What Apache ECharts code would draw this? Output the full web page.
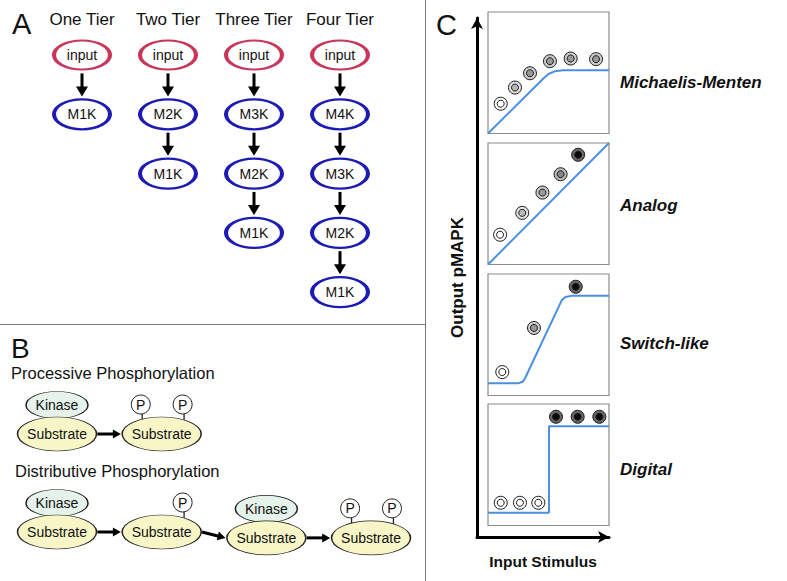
<!DOCTYPE html>
<html>
<head>
<meta charset="utf-8">
<script src="https://cdn.jsdelivr.net/npm/echarts@6/dist/echarts.min.js"></script>
<style>
  html, body { margin: 0; padding: 0; background: #fff; }
  #chart { width: 787px; height: 581px; }
</style>
</head>
<body>
<div id="chart"></div>
<script>
// panel A - cascades, one column per tier, top node first
const tiers = ['One Tier', 'Two Tier', 'Three Tier', 'Four Tier'];
const tierNodes = [
  ['input', 'M1K'],
  ['input', 'M2K', 'M1K'],
  ['input', 'M3K', 'M2K', 'M1K'],
  ['input', 'M4K', 'M3K', 'M2K', 'M1K']
];

// panel B - stages of each scheme (kinase bound?, number of P, row)
const procKinase = [1, 0];
const procPhospho = [0, 2];
const procRow = [0, 0];
const distKinase = [1, 0, 1, 0];
const distPhospho = [0, 1, 0, 2];
const distRow = [1, 1, 1.06, 1.06];

// panel C - response curves (0..10 box units) and dots
const mmCurveX = [0, 4.6, 5.0, 5.5, 6.2, 10];
const mmCurveY = [0, 4.55, 4.9, 5.12, 5.2, 5.2];
const mmDotX = [1.05, 2.23, 3.47, 5.12, 6.83, 8.93];
const mmDotY = [2.45, 3.78, 4.96, 5.95, 6.17, 6.12];
const mmDotLevel = [0, 1, 2, 2, 2, 2];

const anCurveX = [0, 10];
const anCurveY = [0, 10];
const anDotX = [1.0, 2.83, 4.5, 6.0, 7.45];
const anDotY = [2.45, 4.25, 5.92, 7.43, 9.03];
const anDotLevel = [0, 1, 2, 3, 4];

const swCurveX = [0, 2.5, 2.9, 3.1, 6.1, 6.4, 6.9, 10];
const swCurveY = [1.0, 1.0, 1.15, 1.5, 7.85, 8.1, 8.2, 8.2];
const swDotX = [1.18, 3.8, 7.25];
const swDotY = [1.93, 5.56, 8.95];
const swDotLevel = [0, 2, 4];

const dgCurveX = [0, 5.04, 5.04, 10];
const dgCurveY = [1.05, 1.05, 8.16, 8.16];
const dgDotX = [1.05, 2.64, 4.16, 5.62, 7.41, 9.2];
const dgDotY = [1.87, 1.87, 1.87, 8.95, 8.95, 8.95];
const dgDotLevel = [0, 0, 0, 4, 4, 4];

const panelNames = ['Michaelis-Menten', 'Analog', 'Switch-like', 'Digital'];

const FONT = "'Liberation Sans', Arial, sans-serif";
const ELLIPSE = 'path://M0,50 C0,22.4 22.4,0 50,0 C77.6,0 100,22.4 100,50 C100,77.6 77.6,100 50,100 C22.4,100 0,77.6 0,50 Z';
// outer / inner fill of the dots for each phosphorylation level
const dotFill = [
  ['#ffffff', '#ffffff'],
  ['#e2e2e2', '#bababa'],
  ['#cbcbcb', '#9a9a9a'],
  ['#bcbcbc', '#868686'],
  ['#686868', '#080808']
];

const zip = (xs, ys) => xs.map((x, i) => [x, ys[i]]);

// arrow drawn in data space: [x0, y0, x1, y1], tip at (x1, y1)
function arrowRender(headLen, headW, lw) {
  return function (params, api) {
    const p0 = api.coord([api.value(0), api.value(1)]);
    const p1 = api.coord([api.value(2), api.value(3)]);
    const dx = p1[0] - p0[0], dy = p1[1] - p0[1];
    const len = Math.sqrt(dx * dx + dy * dy);
    const ux = dx / len, uy = dy / len;
    const bx = p1[0] - ux * headLen, by = p1[1] - uy * headLen;
    return {
      type: 'group',
      children: [
        { type: 'line', shape: { x1: p0[0], y1: p0[1], x2: bx + ux, y2: by + uy },
          style: { stroke: '#000', lineWidth: lw } },
        { type: 'polygon',
          shape: { points: [[p1[0], p1[1]], [bx - uy * headW / 2, by + ux * headW / 2], [bx + uy * headW / 2, by - ux * headW / 2]] },
          style: { fill: '#000' } }
      ]
    };
  };
}

// ---- build panel A data
const aInputs = [], aKinases = [], aArrows = [];
tierNodes.forEach((nodes, t) => {
  nodes.forEach((n, l) => {
    const item = { name: n, value: [t, l] };
    if (l === 0) aInputs.push(item); else aKinases.push(item);
    if (l < nodes.length - 1) aArrows.push([t, l + 0.31, t, l + 0.7]);
  });
});

// ---- build panel B data
const P_DX = 0.2, P_DY = -0.301, KIN_DY = -0.296, STEM_DX = 0.014, STEM_DY = -0.175;
const bSub = [], bKin = [], bP = [], bStem = [], bArrows = [];
function addScheme(kin, pho, row) {
  kin.forEach((k, i) => {
    bSub.push({ name: 'Substrate', value: [i, row[i]] });
    if (k) bKin.push({ name: 'Kinase', value: [i, row[i] + KIN_DY] });
    const offs = pho[i] === 2 ? [-P_DX, P_DX] : pho[i] === 1 ? [P_DX] : [];
    offs.forEach(o => {
      bP.push({ name: 'P', value: [i + o, row[i] + P_DY] });
      bStem.push([i + o + STEM_DX, row[i] + STEM_DY]);
    });
    if (i < kin.length - 1) bArrows.push([i + 0.385, row[i], i + 0.61, row[i + 1]]);
  });
}
addScheme(procKinase, procPhospho, procRow);
addScheme(distKinase, distPhospho, distRow);

// ---- panel C
const panels = [
  { cx: mmCurveX, cy: mmCurveY, dx: mmDotX, dy: mmDotY, lv: mmDotLevel },
  { cx: anCurveX, cy: anCurveY, dx: anDotX, dy: anDotY, lv: anDotLevel },
  { cx: swCurveX, cy: swCurveY, dx: swDotX, dy: swDotY, lv: swDotLevel },
  { cx: dgCurveX, cy: dgCurveY, dx: dgDotX, dy: dgDotY, lv: dgDotLevel }
];
const panelTop = [12, 143, 274, 404];
const panelLabelY = [82.5, 205, 343, 469];

const grids = [
  { left: 39, top: 25.4, width: 344, height: 296.3, outerBoundsMode: 'none' },
  { left: 4.67, top: 385, width: 418.7, height: 196, outerBoundsMode: 'none' },
  { left: 477, top: 18, width: 132, height: 519, outerBoundsMode: 'none' }
];
panelTop.forEach(t => grids.push({
  left: 488, top: t, width: 121, height: 121.5, show: true,
  borderColor: '#8c8c8c', borderWidth: 1.2, outerBoundsMode: 'none'
}));

const hidden = { show: false };
const xAxes = [
  { type: 'category', gridIndex: 0, position: 'top', data: tiers,
    axisLine: hidden, axisTick: hidden, splitLine: hidden,
    axisLabel: { interval: 0, hideOverlap: false, fontSize: 17, color: '#111', fontFamily: FONT, margin: 6, verticalAlign: 'middle' } },
  { type: 'value', gridIndex: 1, min: -0.5, max: 3.5, show: false },
  { type: 'value', gridIndex: 2, min: 0, max: 1,
    axisLine: { show: true, symbol: ['none', 'arrow'], symbolSize: [9, 11], lineStyle: { color: '#000', width: 3 } },
    axisTick: hidden, axisLabel: hidden, splitLine: hidden,
    name: 'Input Stimulus', nameLocation: 'middle', nameGap: 16,
    nameTextStyle: { fontSize: 15.5, fontWeight: 'bold', color: '#111', fontFamily: FONT } }
];
const yAxes = [
  { type: 'value', gridIndex: 0, min: -0.5, max: 4.5, inverse: true, show: false },
  { type: 'value', gridIndex: 1, min: -0.5, max: 1.5, inverse: true, show: false },
  { type: 'value', gridIndex: 2, min: 0, max: 1,
    axisLine: { show: true, symbol: ['none', 'arrow'], symbolSize: [9, 11], lineStyle: { color: '#000', width: 3 } },
    axisTick: hidden, axisLabel: hidden, splitLine: hidden,
    name: 'Output pMAPK', nameLocation: 'middle', nameGap: 11,
    nameTextStyle: { fontSize: 17, fontWeight: 'bold', color: '#111', fontFamily: FONT } }
];
panelTop.forEach((t, i) => {
  xAxes.push({ type: 'value', gridIndex: 3 + i, min: 0, max: 10, show: false });
  yAxes.push({ type: 'value', gridIndex: 3 + i, min: 0, max: 10, show: false });
});

const nodeLabel = { show: true, position: 'inside', formatter: '{b}', fontSize: 14, color: '#111', fontFamily: FONT };
const series = [
  { type: 'scatter', xAxisIndex: 0, yAxisIndex: 0, data: aInputs, symbol: ELLIPSE, symbolSize: [56, 29],
    itemStyle: { color: '#fff', borderColor: '#c8375a', borderWidth: 3, opacity: 1 }, label: nodeLabel, clip: false },
  { type: 'scatter', xAxisIndex: 0, yAxisIndex: 0, data: aKinases, symbol: ELLIPSE, symbolSize: [56, 30],
    itemStyle: { color: '#fff', borderColor: '#1c1cb4', borderWidth: 3, opacity: 1 }, label: nodeLabel, clip: false },
  { type: 'custom', xAxisIndex: 0, yAxisIndex: 0, data: aArrows, renderItem: arrowRender(10, 12, 3) },

  { type: 'scatter', xAxisIndex: 1, yAxisIndex: 1, data: bKin, symbol: ELLIPSE, symbolSize: [62, 27],
    itemStyle: { color: '#e5f3ea', borderColor: '#222', borderWidth: 1, opacity: 1 }, label: nodeLabel, clip: false },
  { type: 'scatter', xAxisIndex: 1, yAxisIndex: 1, data: bStem, symbol: 'rect', symbolSize: [1.3, 6],
    itemStyle: { color: '#222', opacity: 1 }, clip: false },
  { type: 'scatter', xAxisIndex: 1, yAxisIndex: 1, data: bP, symbol: 'circle', symbolSize: 19,
    itemStyle: { color: '#fff', borderColor: '#222', borderWidth: 1, opacity: 1 }, label: nodeLabel, clip: false },
  { type: 'scatter', xAxisIndex: 1, yAxisIndex: 1, data: bSub, symbol: ELLIPSE, symbolSize: [79, 34],
    itemStyle: { color: '#f8f6c6', borderColor: '#222', borderWidth: 1, opacity: 1 }, label: nodeLabel, clip: false },
  { type: 'custom', xAxisIndex: 1, yAxisIndex: 1, data: bArrows, renderItem: arrowRender(8, 9, 3) }
];

panels.forEach((p, i) => {
  const ax = 3 + i;
  series.push({
    type: 'line', xAxisIndex: ax, yAxisIndex: ax, data: zip(p.cx, p.cy), showSymbol: false,
    lineStyle: { color: '#4a8fe2', width: 2 }, clip: false
  });
  series.push({
    type: 'scatter', xAxisIndex: ax, yAxisIndex: ax, symbol: 'circle', symbolSize: 13, clip: false,
    data: zip(p.dx, p.dy).map((v, k) => ({ value: v, itemStyle: { color: dotFill[p.lv[k]][0] } })),
    itemStyle: { borderColor: '#1a1a1a', borderWidth: 1, opacity: 1 }
  });
  series.push({
    type: 'scatter', xAxisIndex: ax, yAxisIndex: ax, symbol: 'circle', symbolSize: 7, clip: false,
    data: zip(p.dx, p.dy).map((v, k) => ({ value: v, itemStyle: { color: dotFill[p.lv[k]][1] } })),
    itemStyle: { borderColor: '#1a1a1a', borderWidth: 1, opacity: 1 }
  });
});

const graphics = [
  { type: 'line', shape: { x1: 0, y1: 324.5, x2: 425.5, y2: 324.5 }, style: { stroke: '#7a7a7a', lineWidth: 1 } },
  { type: 'line', shape: { x1: 425.5, y1: 0, x2: 425.5, y2: 581 }, style: { stroke: '#7a7a7a', lineWidth: 1 } },
  { type: 'text', x: 12, y: 24, style: { text: 'A', fontSize: 29, fontFamily: FONT, fill: '#111', verticalAlign: 'middle' } },
  { type: 'text', x: 11, y: 348, style: { text: 'B', fontSize: 28, fontFamily: FONT, fill: '#111', verticalAlign: 'middle' } },
  { type: 'text', x: 436, y: 25, style: { text: 'C', fontSize: 29, fontFamily: FONT, fill: '#111', verticalAlign: 'middle' } },
  { type: 'text', x: 11, y: 373, style: { text: 'Processive Phosphorylation', fontSize: 16.5, fontFamily: FONT, fill: '#111', verticalAlign: 'middle' } },
  { type: 'text', x: 15, y: 471, style: { text: 'Distributive Phosphorylation', fontSize: 16.5, fontFamily: FONT, fill: '#111', verticalAlign: 'middle' } }
];
panelNames.forEach((n, i) => graphics.push({
  type: 'text', x: 620, y: panelLabelY[i],
  style: { text: n, fontSize: 17, fontWeight: 'bold', fontStyle: 'italic', fontFamily: FONT, fill: '#111', verticalAlign: 'middle' }
}));

const chart = echarts.init(document.getElementById('chart'), null, { renderer: 'svg' });
chart.setOption({
  animation: false,
  backgroundColor: '#fff',
  grid: grids,
  xAxis: xAxes,
  yAxis: yAxes,
  series: series,
  graphic: graphics
});
</script>
</body>
</html>
